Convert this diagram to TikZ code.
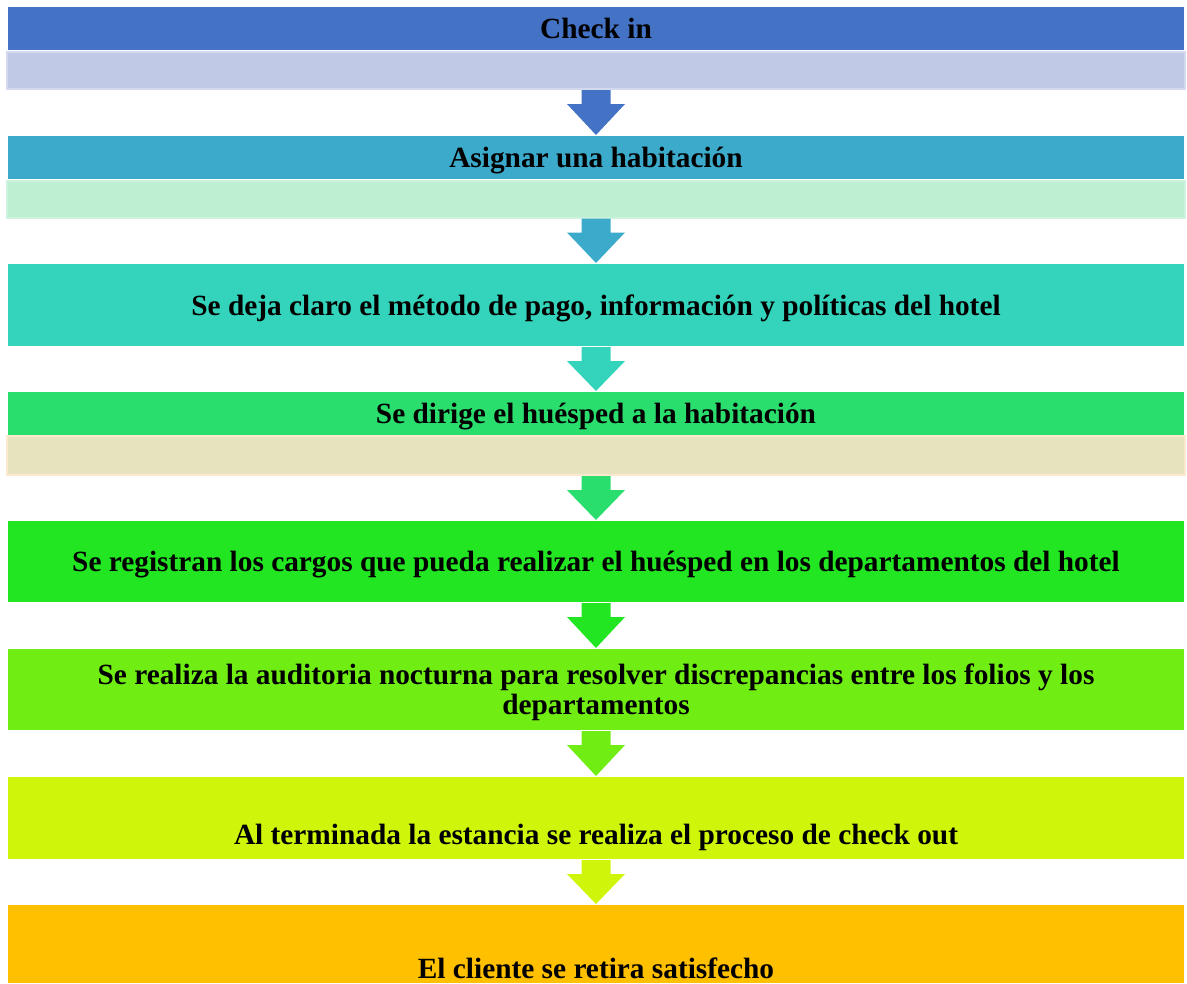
\documentclass[tikz,border=0pt]{standalone}
\usepackage{fontspec}
\setmainfont{Liberation Serif}
\usetikzlibrary{calc}
\definecolor{colBoxA}{HTML}{4472C4}
\definecolor{colSubA}{HTML}{C0C9E6}
\definecolor{colSubAEdge}{HTML}{D3D9EE}
\definecolor{colBoxB}{HTML}{3CAACB}
\definecolor{colSubB}{HTML}{BDEFD3}
\definecolor{colSubBEdge}{HTML}{CDF3DE}
\definecolor{colBoxC}{HTML}{33D4BB}
\definecolor{colBoxD}{HTML}{2ADE6E}
\definecolor{colSubD}{HTML}{E7E3BF}
\definecolor{colSubDEdge}{HTML}{FDE9D0}
\definecolor{colBoxE}{HTML}{22E622}
\definecolor{colBoxF}{HTML}{70EE14}
\definecolor{colBoxG}{HTML}{CFF50A}
\definecolor{colBoxH}{HTML}{FFC000}
\def\boxfont{\fontsize{22pt}{22.5pt}\selectfont\bfseries}
\tikzset{
  stepbox/.style={rectangle, inner sep=0pt, outer sep=0pt, minimum width=1176*0.75pt,
    font=\boxfont, align=center, text depth=0pt},
  subbox/.style={rectangle, inner sep=0pt, outer sep=0pt, minimum width=1178*0.75pt,
    line width=1.5pt}
}
% block arrow from the bottom of #1 to the top of #2
\newcommand{\blockarr}[3]{%
  \coordinate (tip) at ($(#2.north)+(0,-1)$);%
  \fill[#3] ($(#1.south)+(-14.5,1)$) -- ++(29,0) -- ++(0,14) -- ++(14.5,0) -- (tip)
    -- ($(#1.south)+(-29,15)$) -- ++(14.5,0) -- cycle;}

\begin{document}
\begin{tikzpicture}[x=0.75pt,y=-0.75pt]
\useasboundingbox (0,0) rectangle (1187,983);

% ===================== steps =====================
\node[stepbox, fill=colBoxA, minimum height=43*0.75pt] (s1) at (596,28.5) {Check in};
\node[subbox, fill=colSubA, draw=colSubAEdge, minimum height=37*0.75pt] (u1) at (596,70.5) {};

\node[stepbox, fill=colBoxB, minimum height=43*0.75pt] (s2) at (596,157.5) {Asignar una habitación};
\node[subbox, fill=colSubB, draw=colSubBEdge, minimum height=37*0.75pt] (u2) at (596,199) {};

\node[stepbox, fill=colBoxC, minimum height=82*0.75pt] (s3) at (596,305)
  {Se deja claro el método de pago, información y políticas del hotel};

\node[stepbox, fill=colBoxD, minimum height=43*0.75pt] (s4) at (596,413.5) {Se dirige el huésped a la habitación};
\node[subbox, fill=colSubD, draw=colSubDEdge, minimum height=39*0.75pt] (u4) at (596,455.5) {};

\node[stepbox, fill=colBoxE, minimum height=81*0.75pt] (s5) at (596,561.5)
  {Se registran los cargos que pueda realizar el huésped en los departamentos del hotel};

\node[stepbox, fill=colBoxF, minimum height=81*0.75pt] (s6) at (596,689.5)
  {Se realiza la auditoria nocturna para resolver discrepancias entre los folios y los\\departamentos};

\node[stepbox, fill=colBoxG, minimum height=82*0.75pt] (s7) at (596,818) {};
\node[font=\boxfont, inner sep=0pt, text depth=0pt] (t7) at (596,834) {Al terminada la estancia se realiza el proceso de check out};

\node[stepbox, fill=colBoxH, minimum height=78*0.75pt] (s8) at (596,944) {};
\node[font=\boxfont, inner sep=0pt, text depth=0pt] (t8) at (596,968) {El cliente se retira satisfecho};

% ===================== arrows =====================
\blockarr{u1}{s2}{colBoxA}
\blockarr{u2}{s3}{colBoxB}
\blockarr{s3}{s4}{colBoxC}
\blockarr{u4}{s5}{colBoxD}
\blockarr{s5}{s6}{colBoxE}
\blockarr{s6}{s7}{colBoxF}
\blockarr{s7}{s8}{colBoxG}
\end{tikzpicture}
\end{document}
